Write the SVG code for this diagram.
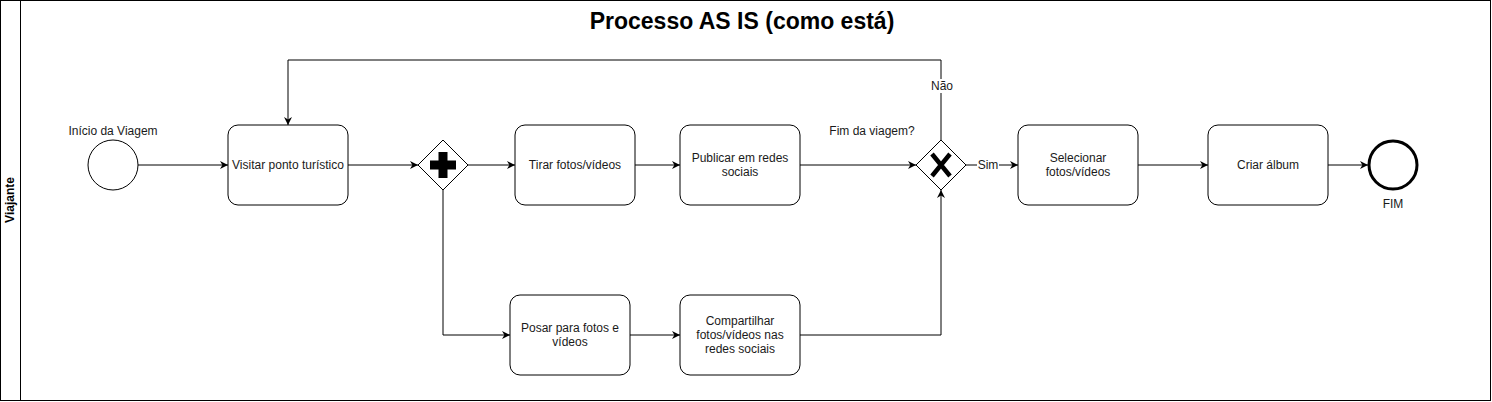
<svg xmlns="http://www.w3.org/2000/svg" width="1492" height="402" viewBox="0 0 1492 402">
<defs>
<style>
.pool{fill:#fff;stroke:#000;stroke-width:1}
.task{fill:#fff;stroke:#000;stroke-width:1}
.gw{fill:#fff;stroke:#000;stroke-width:1}
.edge{fill:none;stroke:#000;stroke-width:1}
.t{font-family:"Liberation Sans",Arial,sans-serif;font-size:12px;fill:#1a1a1a;text-anchor:middle}
.title{font-family:"Liberation Sans",Arial,sans-serif;font-size:23px;font-weight:bold;fill:#000;text-anchor:middle}
.lane{font-family:"Liberation Sans",Arial,sans-serif;font-size:12px;font-weight:bold;fill:#000;text-anchor:middle}
</style>
<marker id="arr" viewBox="0 0 10 10" refX="10" refY="5" markerWidth="8" markerHeight="8" markerUnits="userSpaceOnUse" orient="auto">
<path d="M0,0 L10,5 L0,10 L3,5 Z" fill="#000"/>
</marker>
</defs>
<rect width="1492" height="402" fill="#fff"/>
<g id="pool">
<rect class="pool" x="0.5" y="0.5" width="1490" height="400"/>
<line class="pool" x1="20.5" y1="0.5" x2="20.5" y2="400.5"/>
<text class="lane" transform="translate(14,200) rotate(-90)">Viajante</text>
<text class="title" x="742" y="29">Processo AS IS (como está)</text>
</g>
<g id="connectors">
<path class="edge" d="M138,165 H228" marker-end="url(#arr)"/>
<path class="edge" d="M348,165 H418" marker-end="url(#arr)"/>
<path class="edge" d="M468,165 H515" marker-end="url(#arr)"/>
<path class="edge" d="M443,190 V335 H510" marker-end="url(#arr)"/>
<path class="edge" d="M635,165 H680" marker-end="url(#arr)"/>
<path class="edge" d="M630,335 H680" marker-end="url(#arr)"/>
<path class="edge" d="M800,165 H916" marker-end="url(#arr)"/>
<path class="edge" d="M800,335 H941 V190" marker-end="url(#arr)"/>
<path class="edge" d="M941,140 V60 H288 V125" marker-end="url(#arr)"/>
<path class="edge" d="M966,165 H1018" marker-end="url(#arr)"/>
<path class="edge" d="M1138,165 H1208" marker-end="url(#arr)"/>
<path class="edge" d="M1328,165 H1368" marker-end="url(#arr)"/>
<rect x="931" y="79" width="22" height="14" fill="#fff"/>
<text class="t" x="942" y="90">Não</text>
<rect x="977" y="158" width="22" height="14" fill="#fff"/>
<text class="t" x="988" y="169">Sim</text>
</g>
<g id="start">
<circle class="gw" cx="113" cy="165" r="25"/>
<text class="t" x="113" y="135">Início da Viagem</text>
</g>
<g id="visitar">
<rect class="task" x="228" y="125" width="120" height="80" rx="10"/>
<text class="t" x="288" y="169">Visitar ponto turístico</text>
</g>
<g id="parallel">
<path class="gw" d="M443,140 L468,165 L443,190 L418,165 Z"/>
<path d="M438.5,152 H447.5 V160.5 H456 V169.5 H447.5 V178 H438.5 V169.5 H430 V160.5 H438.5 Z" fill="#000"/>
</g>
<g id="tirar">
<rect class="task" x="515" y="125" width="120" height="80" rx="10"/>
<text class="t" x="575" y="169">Tirar fotos/vídeos</text>
</g>
<g id="publicar">
<rect class="task" x="680" y="125" width="120" height="80" rx="10"/>
<text class="t" x="740" y="162">Publicar em redes</text>
<text class="t" x="740" y="176">sociais</text>
</g>
<g id="posar">
<rect class="task" x="510" y="295" width="120" height="80" rx="10"/>
<text class="t" x="570" y="332">Posar para fotos e</text>
<text class="t" x="570" y="346">vídeos</text>
</g>
<g id="compartilhar">
<rect class="task" x="680" y="295" width="120" height="80" rx="10"/>
<text class="t" x="740" y="325">Compartilhar</text>
<text class="t" x="740" y="339">fotos/vídeos nas</text>
<text class="t" x="740" y="353">redes sociais</text>
</g>
<g id="exclusive">
<path class="gw" d="M941,140 L966,165 L941,190 L916,165 Z"/>
<path d="M932,154 L950,176 M950,154 L932,176" stroke="#000" stroke-width="4.5" fill="none"/>
<text class="t" x="872" y="135">Fim da viagem?</text>
</g>
<g id="selecionar">
<rect class="task" x="1018" y="125" width="120" height="80" rx="10"/>
<text class="t" x="1078" y="162">Selecionar</text>
<text class="t" x="1078" y="176">fotos/vídeos</text>
</g>
<g id="criar">
<rect class="task" x="1208" y="125" width="120" height="80" rx="10"/>
<text class="t" x="1268" y="169">Criar álbum</text>
</g>
<g id="fim">
<circle cx="1393" cy="165" r="24" fill="#fff" stroke="#000" stroke-width="3"/>
<text class="t" x="1393" y="208">FIM</text>
</g>
</svg>
